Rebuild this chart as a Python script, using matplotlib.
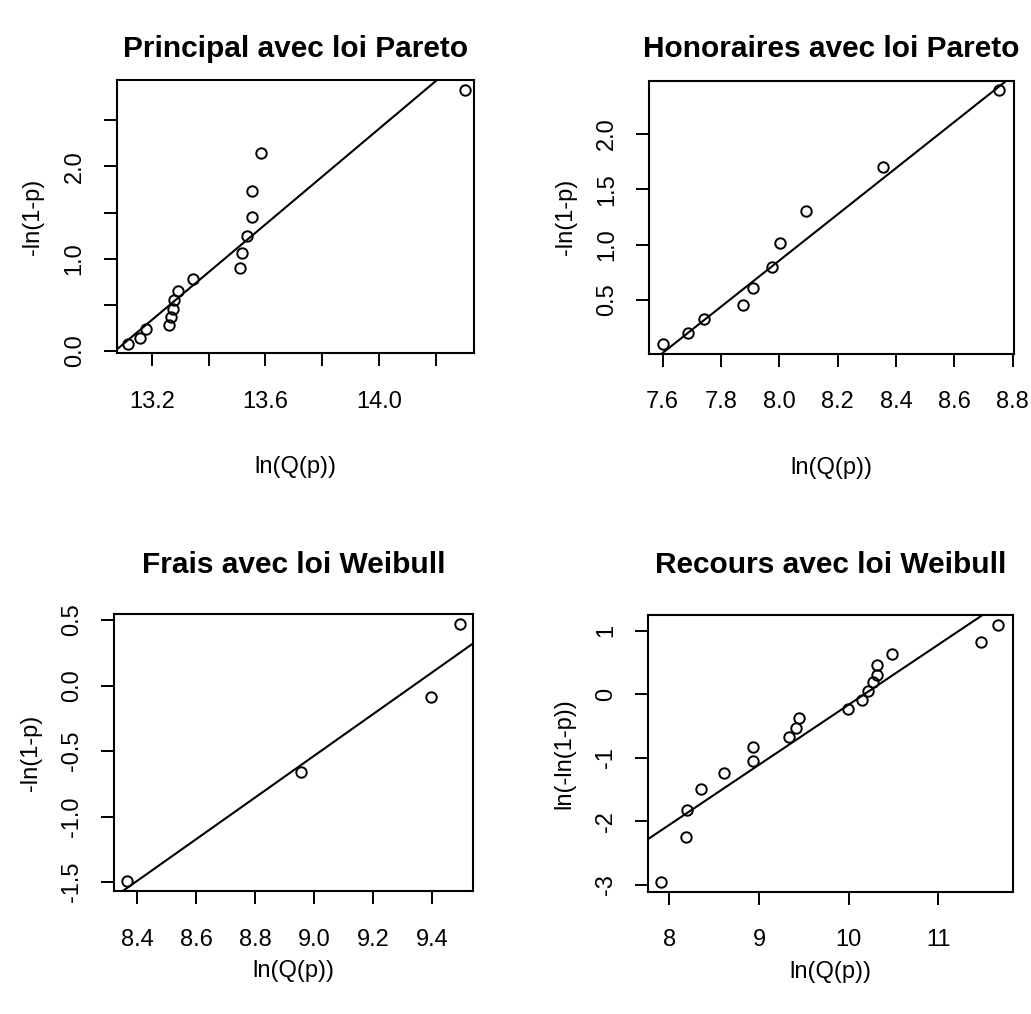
import numpy as np
import matplotlib.pyplot as plt

plt.rcParams['font.family'] = ['Liberation Sans', 'DejaVu Sans']

# Principal avec loi Pareto
x_principal = [13.117, 13.159, 13.180, 13.259, 13.267, 13.273, 13.279, 13.292,
               13.345, 13.510, 13.516, 13.536, 13.551, 13.551, 13.586, 14.305]
y_principal = [0.076, 0.144, 0.235, 0.281, 0.371, 0.451, 0.552, 0.653,
               0.776, 0.895, 1.057, 1.245, 1.447, 1.732, 2.143, 2.825]
line_principal = (-33.812, 2.587)  # intercept, slope

# Honoraires avec loi Pareto
x_honoraires = [7.600, 7.688, 7.742, 7.876, 7.910, 7.976, 8.002, 8.091, 8.357, 8.754]
y_honoraires = [0.100, 0.199, 0.326, 0.455, 0.611, 0.795, 1.018, 1.307, 1.704, 2.400]
line_honoraires = (-15.824, 2.085)

# Frais avec loi Weibull
x_frais = [8.366, 8.955, 9.394, 9.494]
y_frais = [-1.488, -0.661, -0.088, 0.470]
line_frais = (-14.845, 1.59)

# Recours avec loi Weibull
x_recours = [7.904, 8.186, 8.201, 8.353, 8.610, 8.937, 8.937, 9.338, 9.412, 9.449,
             9.997, 10.147, 10.218, 10.274, 10.319, 10.312, 10.487, 11.472, 11.666]
y_recours = [-2.953, -2.244, -1.824, -1.493, -1.247, -1.047, -0.827, -0.680, -0.533,
             -0.375, -0.233, -0.087, 0.044, 0.186, 0.307, 0.460, 0.633, 0.816, 1.094]
line_recours = (-9.626, 0.946)

W, H = 1031, 1014
fig = plt.figure(figsize=(W / 100, H / 100), dpi=100)


def make_axes(left, right, top, bottom):
    return fig.add_axes([left / W, 1 - bottom / H, (right - left) / W, (bottom - top) / H])


panels = [
    dict(box=(117, 474, 80.5, 353.3), x=x_principal, y=y_principal, line=line_principal,
         title='Principal avec loi Pareto', ylabel='-ln(1-p)',
         xlim=(13.077, 14.335), ylim=(-0.025, 2.93),
         xticks=[13.2, 13.4, 13.6, 13.8, 14.0, 14.2],
         xlabels=['13.2', '', '13.6', '', '14.0', ''],
         yticks=[0.0, 0.5, 1.0, 1.5, 2.0, 2.5],
         ylabels=['0.0', '', '1.0', '', '2.0', ''],
         title_pad=17, xlabel_pad=31),
    dict(box=(649.3, 1014, 80.7, 354), x=x_honoraires, y=y_honoraires, line=line_honoraires,
         title='Honoraires avec loi Pareto', ylabel='-ln(1-p)',
         xlim=(7.554, 8.805), ylim=(0.012, 2.48),
         xticks=[7.6, 7.8, 8.0, 8.2, 8.4, 8.6, 8.8],
         xlabels=['7.6', '7.8', '8.0', '8.2', '8.4', '8.6', '8.8'],
         yticks=[0.5, 1.0, 1.5, 2.0],
         ylabels=['0.5', '1.0', '1.5', '2.0'],
         title_pad=17, xlabel_pad=31),
    dict(box=(114.3, 473, 614.3, 891), x=x_frais, y=y_frais, line=line_frais,
         title='Frais avec loi Weibull', ylabel='-ln(1-p)',
         xlim=(8.322, 9.538), ylim=(-1.567, 0.543),
         xticks=[8.4, 8.6, 8.8, 9.0, 9.2, 9.4],
         xlabels=['8.4', '8.6', '8.8', '9.0', '9.2', '9.4'],
         yticks=[-1.5, -1.0, -0.5, 0.0, 0.5],
         ylabels=['-1.5', '-1.0', '-0.5', '0.0', '0.5'],
         title_pad=30, xlabel_pad=7),
    dict(box=(648.3, 1013.3, 615, 891.7), x=x_recours, y=y_recours, line=line_recours,
         title='Recours avec loi Weibull', ylabel='ln(-ln(1-p))',
         xlim=(7.766, 11.835), ylim=(-3.11, 1.246),
         xticks=[8, 9, 10, 11],
         xlabels=['8', '9', '10', '11'],
         yticks=[-3, -2, -1, 0, 1],
         ylabels=['-3', '-2', '-1', '0', '1'],
         title_pad=30, xlabel_pad=7),
]

for p in panels:
    ax = make_axes(*p['box'])
    ax.plot(p['x'], p['y'], 'o', markerfacecolor='none', markeredgecolor='black',
            markersize=7.5, markeredgewidth=1.4)
    a, b = p['line']
    xs = np.array(p['xlim'])
    ax.plot(xs, a + b * xs, color='black', linewidth=1.5)
    ax.set_xlim(p['xlim'])
    ax.set_ylim(p['ylim'])
    ax.set_xticks(p['xticks'])
    ax.set_xticklabels(p['xlabels'])
    ax.set_yticks(p['yticks'])
    ax.set_yticklabels(p['ylabels'], rotation=90, va='center')
    ax.tick_params(direction='out', length=9.5, width=1.4, labelsize=17)
    ax.tick_params(axis='x', pad=17.5)
    ax.tick_params(axis='y', pad=13)
    for s in ax.spines.values():
        s.set_linewidth(1.5)
    ax.set_title(p['title'], fontsize=21.5, fontweight='bold', pad=p['title_pad'])
    ax.set_xlabel('ln(Q(p))', fontsize=17, labelpad=p['xlabel_pad'])
    ax.set_ylabel(p['ylabel'], fontsize=17, labelpad=14)

plt.savefig('out.png', format='png', dpi=100)
